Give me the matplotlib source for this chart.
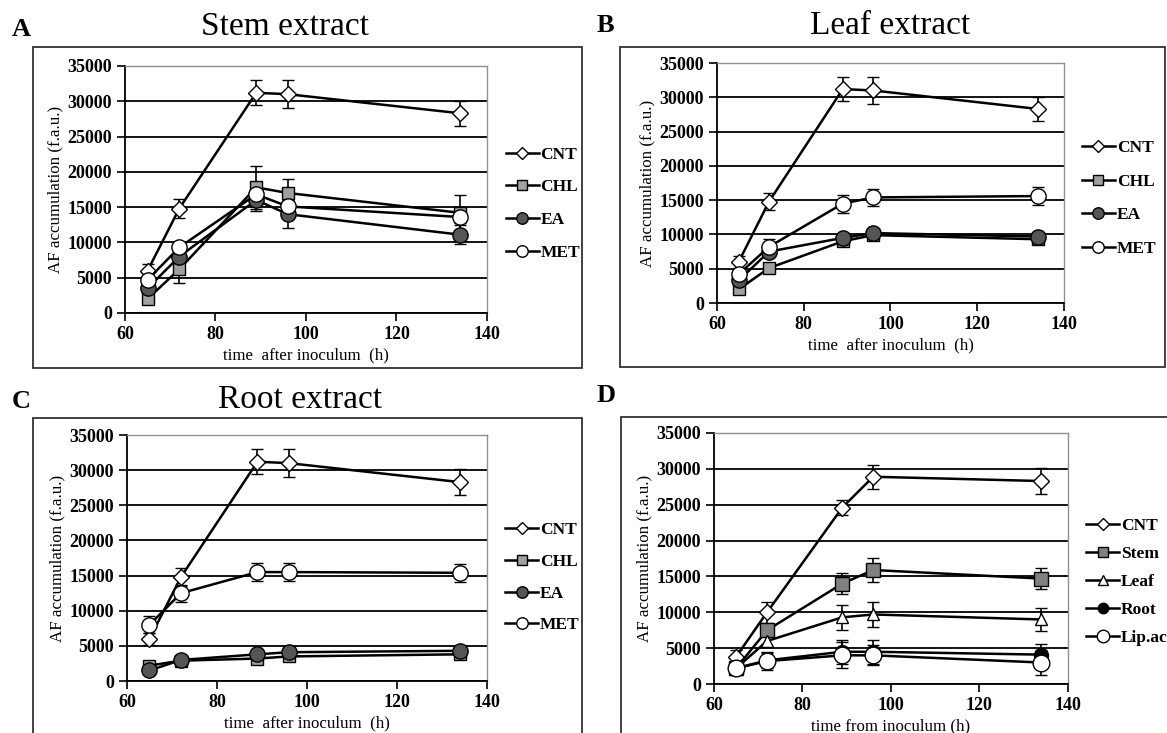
import matplotlib.pyplot as plt
from matplotlib.patches import Rectangle
from matplotlib.lines import Line2D

# time points (h)
hours = [65, 72, 89, 96, 134]

# control, shared by all panels
cnt = [6000, 14800, 31200, 31000, 28300]
cnt_err = [900, 1300, 1800, 2000, 1800]

# A - stem extract
stem_chl = [2000, 6200, 17800, 17000, 14200]
stem_chl_err = [300, 2000, 3000, 2000, 2500]
stem_ea = [3500, 8000, 16000, 14000, 11100]
stem_ea_err = [600, 900, 1500, 2000, 1300]
stem_met = [4700, 9300, 16800, 15100, 13600]
stem_met_err = [500, 700, 1000, 1000, 800]

# B - leaf extract
leaf_chl = [2000, 5100, 9000, 9900, 9300]
leaf_chl_err = [400, 500, 600, 500, 500]
leaf_ea = [3300, 7500, 9500, 10200, 9700]
leaf_ea_err = [500, 600, 600, 600, 600]
leaf_met = [4200, 8200, 14500, 15400, 15600]
leaf_met_err = [800, 1200, 1300, 1300, 1300]

# C - root extract
root_chl = [2200, 2900, 3200, 3500, 3800]
root_chl_err = [300, 300, 300, 300, 300]
root_ea = [1500, 3000, 3800, 4100, 4300]
root_ea_err = [300, 300, 300, 300, 300]
root_met = [8000, 12500, 15500, 15500, 15400]
root_met_err = [1200, 1200, 1300, 1300, 1300]

# D - comparison
d_cnt = [3800, 10000, 24600, 28900, 28300]
d_cnt_err = [1000, 1500, 1000, 1700, 1800]
d_stem = [2200, 7500, 14000, 15900, 14700]
d_stem_err = [500, 800, 1500, 1700, 1500]
d_leaf = [2200, 6000, 9300, 9700, 9000]
d_leaf_err = [500, 800, 1700, 1700, 1600]
d_root = [2200, 3300, 4500, 4500, 4100]
d_root_err = [1000, 1000, 1700, 1700, 1500]
d_lip = [2200, 3200, 4000, 4000, 3000]
d_lip_err = [800, 1300, 1800, 1400, 1800]

SERIF = 'Liberation Serif'
plt.rcParams['font.family'] = SERIF

# marker styles: (marker, facecolor, size)
STY = {
    'CNT': ('D', 'white', 8.5),
    'CHL': ('s', '#a0a0a0', 9),
    'EA': ('o', '#555555', 11),
    'MET': ('o', 'white', 11),
    'Stem': ('s', '#808080', 9.5),
    'Leaf': ('^', 'white', 9),
    'Root': ('o', 'black', 10),
    'Lip.ac': ('o', 'white', 12),
}


def draw_panel(fig, rect, series, xlabel, leg_anchor, leg_space):
    ax = fig.add_axes(rect)
    handles = []
    for name, y, err in series:
        m, fc, ms = STY[name]
        ax.errorbar(hours, y, yerr=err, color='black', lw=1.8, marker=m,
                    markersize=ms, markerfacecolor=fc, markeredgecolor='black',
                    markeredgewidth=1.0, ecolor='black', elinewidth=1.2,
                    capsize=4, capthick=1.2)
        handles.append(Line2D([], [], color='black', lw=1.8, marker=m,
                              markersize=ms * 0.75, markerfacecolor=fc,
                              markeredgecolor='black', markeredgewidth=1.0,
                              label=name))
    ax.set_xlim(60, 140)
    ax.set_ylim(0, 35000)
    ax.set_xticks([60, 80, 100, 120, 140])
    ax.set_yticks(range(0, 35001, 5000))
    ax.yaxis.grid(True, color='black', lw=1.3)
    ax.set_axisbelow(True)
    for s in ['top', 'right']:
        ax.spines[s].set_color('#909090')
        ax.spines[s].set_linewidth(1.0)
    for s in ['left', 'bottom']:
        ax.spines[s].set_linewidth(1.3)
    ax.tick_params(direction='out', length=6, width=1.2, labelsize=13)
    for lab in ax.get_xticklabels() + ax.get_yticklabels():
        lab.set_fontweight('bold')
    ax.set_xlabel(xlabel, fontsize=12.2, labelpad=3)
    ax.set_ylabel('AF accumulation (f.a.u.)', fontsize=12.2, labelpad=3)
    ax.legend(handles=handles, loc='center left', bbox_to_anchor=leg_anchor,
              frameon=False, handlelength=1.9, handletextpad=0.1,
              labelspacing=leg_space, borderaxespad=0,
              prop={'family': SERIF, 'weight': 'bold', 'size': 12.5})
    return ax


fig = plt.figure(figsize=(11.67, 7.33), dpi=100)

# outer frames around each panel
W, H = 1167.0, 733.0
for (l, t, r, b) in [(33, 47, 582, 368), (620, 47, 1165, 367),
                     (33, 418, 582, 740), (621, 417, 1175, 740)]:
    fig.patches.append(Rectangle((l / W, 1 - b / H), (r - l) / W, (b - t) / H,
                                 transform=fig.transFigure, fill=False,
                                 edgecolor='#333333', lw=1.3))

draw_panel(fig, [0.1071, 0.5730, 0.3102, 0.3370],
           [('CNT', cnt, cnt_err), ('CHL', stem_chl, stem_chl_err),
            ('EA', stem_ea, stem_ea_err), ('MET', stem_met, stem_met_err)],
           'time  after inoculum  (h)', (1.032, 0.443), 0.95)

draw_panel(fig, [0.6144, 0.5866, 0.2973, 0.3274],
           [('CNT', cnt, cnt_err), ('CHL', leaf_chl, leaf_chl_err),
            ('EA', leaf_ea, leaf_ea_err), ('MET', leaf_met, leaf_met_err)],
           'time  after inoculum  (h)', (1.032, 0.435), 1.0)

draw_panel(fig, [0.1088, 0.0709, 0.3085, 0.3356],
           [('CNT', cnt, cnt_err), ('CHL', root_chl, root_chl_err),
            ('EA', root_ea, root_ea_err), ('MET', root_met, root_met_err)],
           'time  after inoculum  (h)', (1.032, 0.42), 0.9)

draw_panel(fig, [0.6118, 0.0668, 0.3033, 0.3425],
           [('CNT', d_cnt, d_cnt_err), ('Stem', d_stem, d_stem_err),
            ('Leaf', d_leaf, d_leaf_err), ('Root', d_root, d_root_err),
            ('Lip.ac', d_lip, d_lip_err)],
           'time from inoculum (h)', (1.032, 0.407), 0.68)

# panel letters and titles
for x, y, s in [(12, 30, 'A'), (597, 25, 'B'), (12, 401, 'C'), (597, 396, 'D')]:
    fig.text(x / W, 1 - y / H, s, fontsize=19, fontweight='bold', va='center', ha='left')
for x, y, s in [(285, 27, 'Stem extract'), (890, 26, 'Leaf extract'), (300, 400, 'Root extract')]:
    fig.text(x / W, 1 - y / H, s, fontsize=24, va='center', ha='center')

fig.savefig('out.png', dpi=100)
